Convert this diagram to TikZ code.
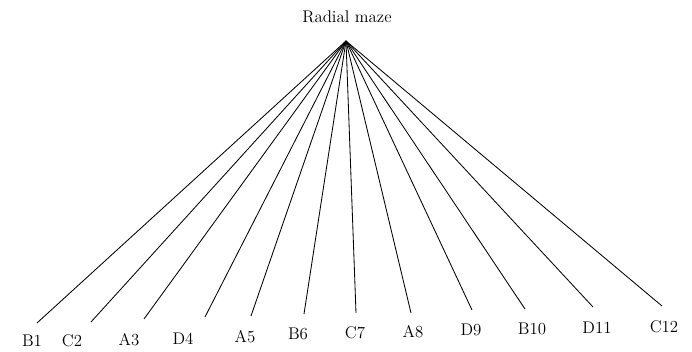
\documentclass[tikz,border=0pt]{standalone}
\usetikzlibrary{positioning}

\begin{document}
\begin{tikzpicture}[x=0.025cm, y=-0.025cm,
    arm/.style={line width=0.6pt},
    leaf/.style={font=\large, inner sep=1pt}]
  \useasboundingbox (0,0) rectangle (692,352);
  \node[font=\large] (root) at (347,17) {Radial maze};
  \coordinate (apex) at (346,41);
  \foreach \name/\ex/\ey/\lx/\ly in {B1/37/323/32/341, C2/91/322/72/341,
      A3/144/319/129/340, D4/205/317/183/339, A5/251/316/245/337,
      B6/304/314/298/334, C7/356/313/355/333, A8/411/313/413/332,
      D9/472/310/471/330, B10/525/309/532/329, D11/593/307/597/328,
      C12/662/306/664/327} {
    \coordinate (e-\name) at (\ex,\ey);
    \node[leaf] (\name) at (\lx,\ly) {\name};
    \draw[arm] (apex) -- (e-\name);
  }
\end{tikzpicture}
\end{document}
